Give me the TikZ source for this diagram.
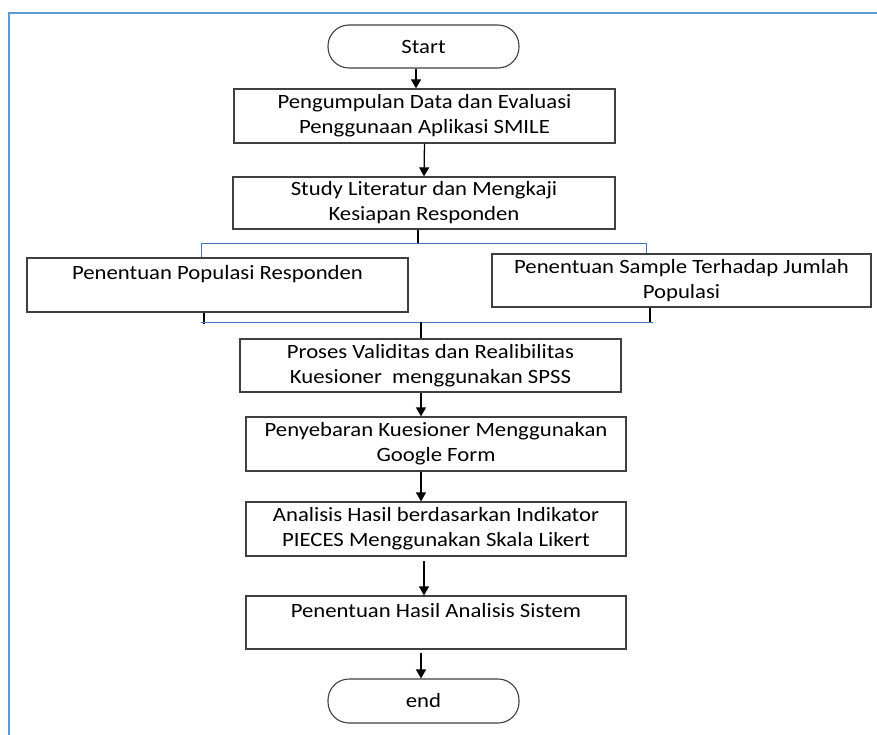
\documentclass[tikz,border=0pt]{standalone}
\usepackage{fontspec}
\setmainfont{Carlito}[FakeStretch=1.12]
\usetikzlibrary{arrows.meta}
\definecolor{framecol}{RGB}{91,155,213}
\definecolor{linkcol}{RGB}{68,114,196}
\definecolor{boxcol}{RGB}{64,64,64}
\tikzset{
  procbox/.style={draw=boxcol, line width=1.3pt, fill=white, inner sep=0pt, align=center,
    font=\fontsize{20.3}{25}\selectfont},
  termbox/.style={draw=boxcol, line width=1.1pt, fill=white, inner sep=0pt, rounded corners=21pt,
    minimum width=191pt, font=\fontsize{20.3}{25}\selectfont},
  arr/.style={draw=black, line width=1.3pt, -{Triangle[length=9pt,width=10pt]}},
  plain/.style={draw=black, line width=1.3pt},
  bluelink/.style={draw=linkcol, line width=1pt}
}
\begin{document}
\begin{tikzpicture}[x=1pt,y=-1pt]
\useasboundingbox (0,0) rectangle (877,735);
\fill[white] (0,0) rectangle (877,735);
% frame
\draw[framecol, line width=2pt] (9,735) -- (9,13) -- (878,13);

% nodes
\node[termbox, minimum height=43pt] (start) at (423.5,46.5) {Start};
\node[procbox, minimum width=381pt, minimum height=54pt] (b1) at (424.5,116)
  {Pengumpulan Data dan Evaluasi\\Penggunaan Aplikasi SMILE};
\node[procbox, minimum width=382pt, minimum height=52pt] (b2) at (424,203)
  {Study Literatur dan Mengkaji\\Kesiapan Responden};
\node[procbox, minimum width=381pt, minimum height=54pt] (b3) at (217.5,285)
  {Penentuan Populasi Responden\\~};
\node[procbox, minimum width=379pt, minimum height=53pt] (b4) at (681.5,280.5)
  {Penentuan Sample Terhadap Jumlah\\Populasi};
\node[procbox, minimum width=381pt, minimum height=53pt] (b5) at (430.5,365.5)
  {Proses Validitas dan Realibilitas\\Kuesioner\ \ menggunakan SPSS};
\node[procbox, minimum width=380pt, minimum height=54pt] (b6) at (436,444)
  {Penyebaran Kuesioner Menggunakan\\Google Form};
\node[procbox, minimum width=380pt, minimum height=54pt] (b7) at (436,529)
  {Analisis Hasil berdasarkan Indikator\\PIECES Menggunakan Skala Likert};
\node[procbox, minimum width=380pt, minimum height=53pt] (b8) at (436,622.5)
  {Penentuan Hasil Analisis Sistem\\~};
\node[termbox, minimum height=44pt] (end) at (423.5,701) {end};

% helper x positions
\coordinate (xs) at (416,0);
\coordinate (xm) at (418,0);
\coordinate (xl) at (201,0);
\coordinate (xr) at (646,0);
\coordinate (xlb) at (204,0);
\coordinate (xrb) at (650,0);
\coordinate (xc) at (421,0);
\coordinate (xd) at (424,0);
\coordinate (ybot) at (0,322);
\coordinate (jtop) at (418,243);
\coordinate (jbot) at (421,322);
\coordinate (bl1) at (201,243);
\coordinate (br1) at (646,243);
\coordinate (bl2) at (201,322);
\coordinate (br2) at (653,322);
\coordinate (g7) at (424,561);
\coordinate (lb) at (204,324);

% connectors
\draw[arr] (start.south -| xs) -- (b1.north -| xs);
\draw[arr] (b1.south) -- (b2.north);
\draw[plain] (b2.south -| xm) -- (jtop);
\draw[bluelink] (b3.north -| xl) -- (bl1) -- (br1) -- (b4.north -| xr);
\draw[plain] (b3.south -| xlb) -- (lb);
\draw[plain] (b4.south -| xrb) -- (xrb |- ybot);
\draw[bluelink] (bl2) -- (br2);
\draw[plain] (jbot) -- (b5.north -| xc);
\draw[arr] (b5.south -| xc) -- (b6.north -| xc);
\draw[arr] (b6.south -| xc) -- (b7.north -| xc);
\draw[arr] (g7) -- (b8.north -| xd);
\draw[arr] ([yshift=-3pt]b8.south -| xc) -- (end.north -| xc);
\end{tikzpicture}
\end{document}
